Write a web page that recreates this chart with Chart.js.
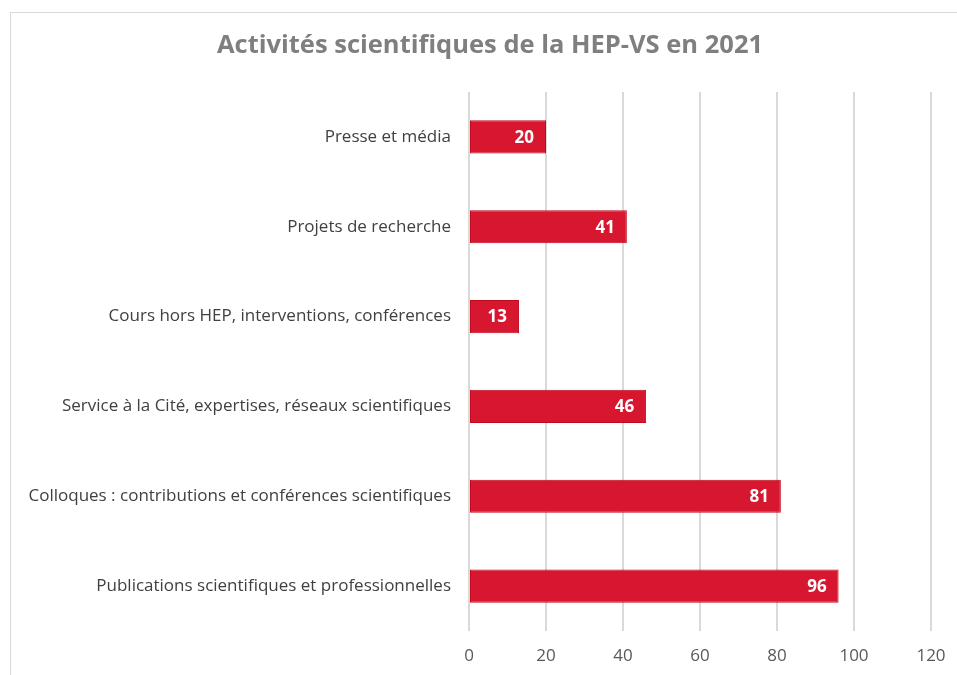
<!DOCTYPE html>
<html>
<head>
<meta charset="utf-8">
<script src="https://cdn.jsdelivr.net/npm/chart.js@4"></script>
<style>
  html, body { margin: 0; padding: 0; background: #fff; overflow: hidden; }
  #frame { position: absolute; left: 10px; top: 12px; width: 1000px; height: 1000px; border: 1px solid #d9d9d9; }
  #wrap { position: absolute; left: 0; top: 0; width: 957px; height: 675px; }
</style>
</head>
<body>
<div id="frame"></div>
<div id="wrap"><canvas id="chart"></canvas></div>
<script>
const categories = [
  'Presse et média',
  'Projets de recherche',
  'Cours hors HEP, interventions, conférences',
  'Service à la Cité, expertises, réseaux scientifiques',
  'Colloques : contributions et conférences scientifiques',
  'Publications scientifiques et professionnelles'
];
const values = [20, 41, 13, 46, 81, 96];
const xTicks = [0, 20, 40, 60, 80, 100, 120];
const titleText = 'Activités scientifiques de la HEP-VS en 2021';

const fontFamily = '"Open Sans", Lato, sans-serif';

// title is centred on the outer frame, not on the canvas
const frameTitle = {
  id: 'frameTitle',
  afterDraw(chart) {
    const ctx = chart.ctx;
    ctx.save();
    ctx.fillStyle = '#7f7f7f';
    ctx.font = 'bold 25.5px ' + fontFamily;
    ctx.textAlign = 'center';
    ctx.textBaseline = 'middle';
    ctx.fillText(titleText, 490, 46);
    ctx.restore();
  }
};

// white value labels at the inner end of each bar
const valueLabels = {
  id: 'valueLabels',
  afterDatasetsDraw(chart) {
    const ctx = chart.ctx;
    const meta = chart.getDatasetMeta(0);
    ctx.save();
    ctx.fillStyle = '#ffffff';
    ctx.font = 'bold 17px ' + fontFamily;
    ctx.textAlign = 'right';
    ctx.textBaseline = 'middle';
    meta.data.forEach((bar, i) => {
      ctx.fillText(String(values[i]), bar.x - 12, bar.y + 1);
    });
    ctx.restore();
  }
};

new Chart(document.getElementById('chart'), {
  type: 'bar',
  data: {
    labels: categories,
    datasets: [{
      label: 'Activités',
      data: values,
      backgroundColor: '#d7172f',
      borderColor: '#c00a1e',
      borderWidth: 1,
      borderSkipped: false,
      barPercentage: 0.37,
      categoryPercentage: 1
    }]
  },
  options: {
    indexAxis: 'y',
    responsive: true,
    maintainAspectRatio: false,
    animation: false,
    layout: { padding: { left: 0, right: 26, top: 92, bottom: 0 } },
    plugins: {
      legend: { display: false },
      tooltip: { enabled: false },
      title: { display: false }
    },
    scales: {
      x: {
        min: 0,
        max: 120,
        afterBuildTicks: (scale) => { scale.ticks = xTicks.map(v => ({ value: v })); },
        afterFit: (scale) => { scale.height = 44; scale.paddingLeft = 0; scale.paddingRight = 0; },
        grid: { color: '#d9d9d9', lineWidth: 2, drawTicks: false },
        border: { display: false },
        ticks: { color: '#595959', padding: 15, font: { family: fontFamily, size: 17 } }
      },
      y: {
        afterFit: (scale) => { scale.width = 469; },
        grid: { display: false },
        border: { display: false },
        ticks: { color: '#404040', padding: 10, font: { family: fontFamily, size: 17 } }
      }
    }
  },
  plugins: [valueLabels, frameTitle]
});
</script>
</body>
</html>
